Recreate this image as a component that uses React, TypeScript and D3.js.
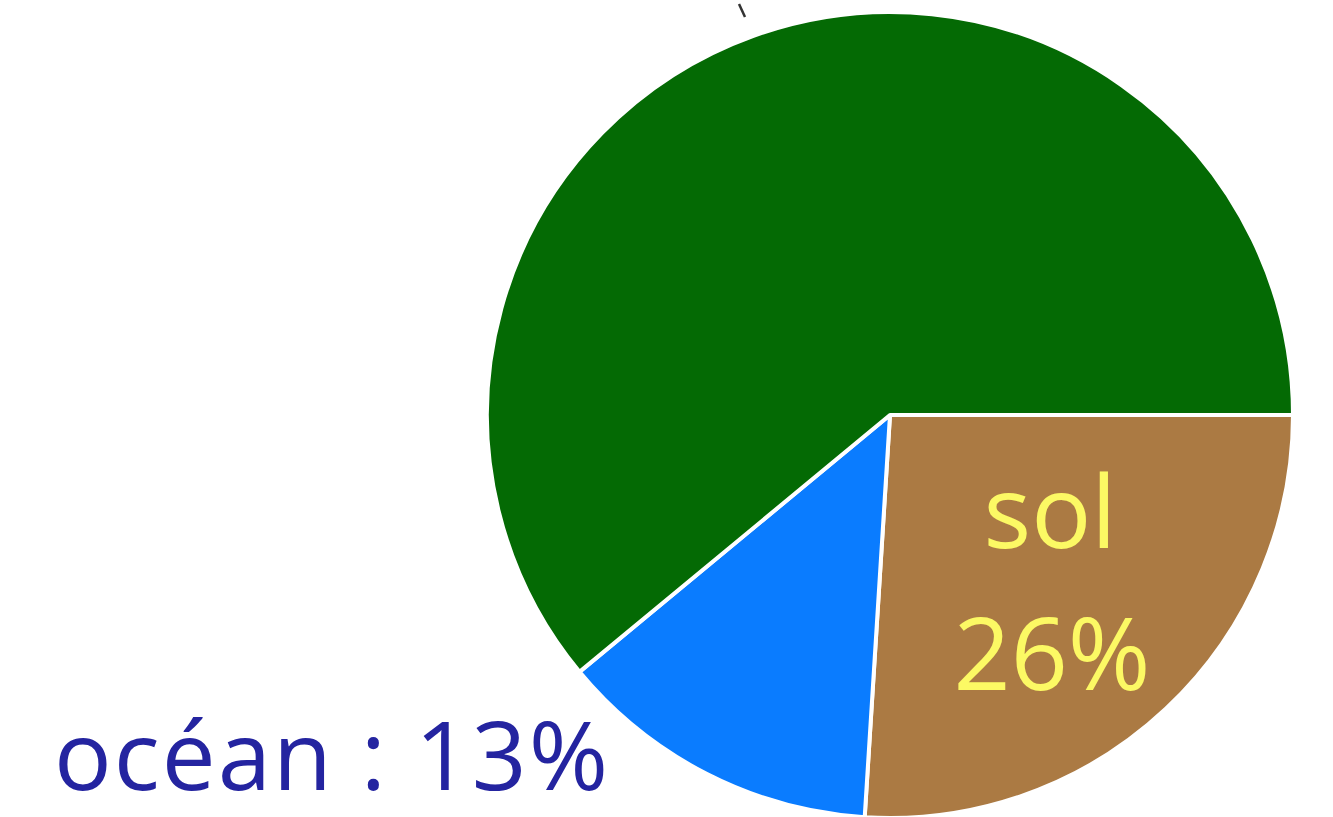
import { useEffect, useRef } from "react"
import * as d3 from "d3"

// données du camembert (en %)
const categories = ["sol", "océan", "végétation"]
const values = [26, 13, 61]
const colors = ["#ab7a43", "#0a7cff", "#046a04"]

export default function App() {
  const svgRef = useRef<SVGSVGElement>(null)
  const width = 1333
  const height = 817

  useEffect(() => {
    if (!svgRef.current) return
    const svg = d3.select(svgRef.current)
    svg.selectAll("*").remove()

    const cx = 890
    const cy = 415
    const radius = 403

    const pie = d3
      .pie<number>()
      .sort(null)
      .startAngle(Math.PI / 2)
      .endAngle(Math.PI / 2 + 2 * Math.PI)
    const arcs = pie(values)
    const arc = d3.arc<d3.PieArcDatum<number>>().innerRadius(0).outerRadius(radius)

    const g = svg.append("g").attr("transform", `translate(${cx},${cy})`)

    g.selectAll("path")
      .data(arcs)
      .enter()
      .append("path")
      .attr("d", arc)
      .attr("fill", (_d, i) => colors[i])
      .attr("stroke", "#ffffff")
      .attr("stroke-width", 4)
      .attr("stroke-linejoin", "round")

    // petit trait de repère en haut (étiquette coupée)
    svg
      .append("line")
      .attr("x1", 739)
      .attr("y1", 4)
      .attr("x2", 745)
      .attr("y2", 17)
      .attr("stroke", "#333")
      .attr("stroke-width", 2.5)

    const font = "'Open Sans', Lato, sans-serif"

    // étiquette sol, à l'intérieur
    const sol = g.append("text").attr("text-anchor", "middle").attr("fill", "#fcf964")
      .style("font-family", font).style("font-size", "100px")
    sol.append("tspan").attr("x", 160).attr("y", 133).text(categories[0])
    sol.append("tspan").attr("x", 162).attr("y", 275).text(`${values[0]}%`)

    // étiquette océan, à l'extérieur
    svg
      .append("text")
      .attr("x", 54)
      .attr("y", 790)
      .attr("fill", "#2424a0")
      .style("font-family", font)
      .style("font-size", "96px")
      .style("letter-spacing", "2px")
      .text(`${categories[1]} : ${values[1]}%`)
  }, [])

  return (
    <svg
      ref={svgRef}
      width={width}
      height={height}
      style={{ position: "absolute", top: 0, left: 0, background: "#ffffff" }}
    />
  )
}
